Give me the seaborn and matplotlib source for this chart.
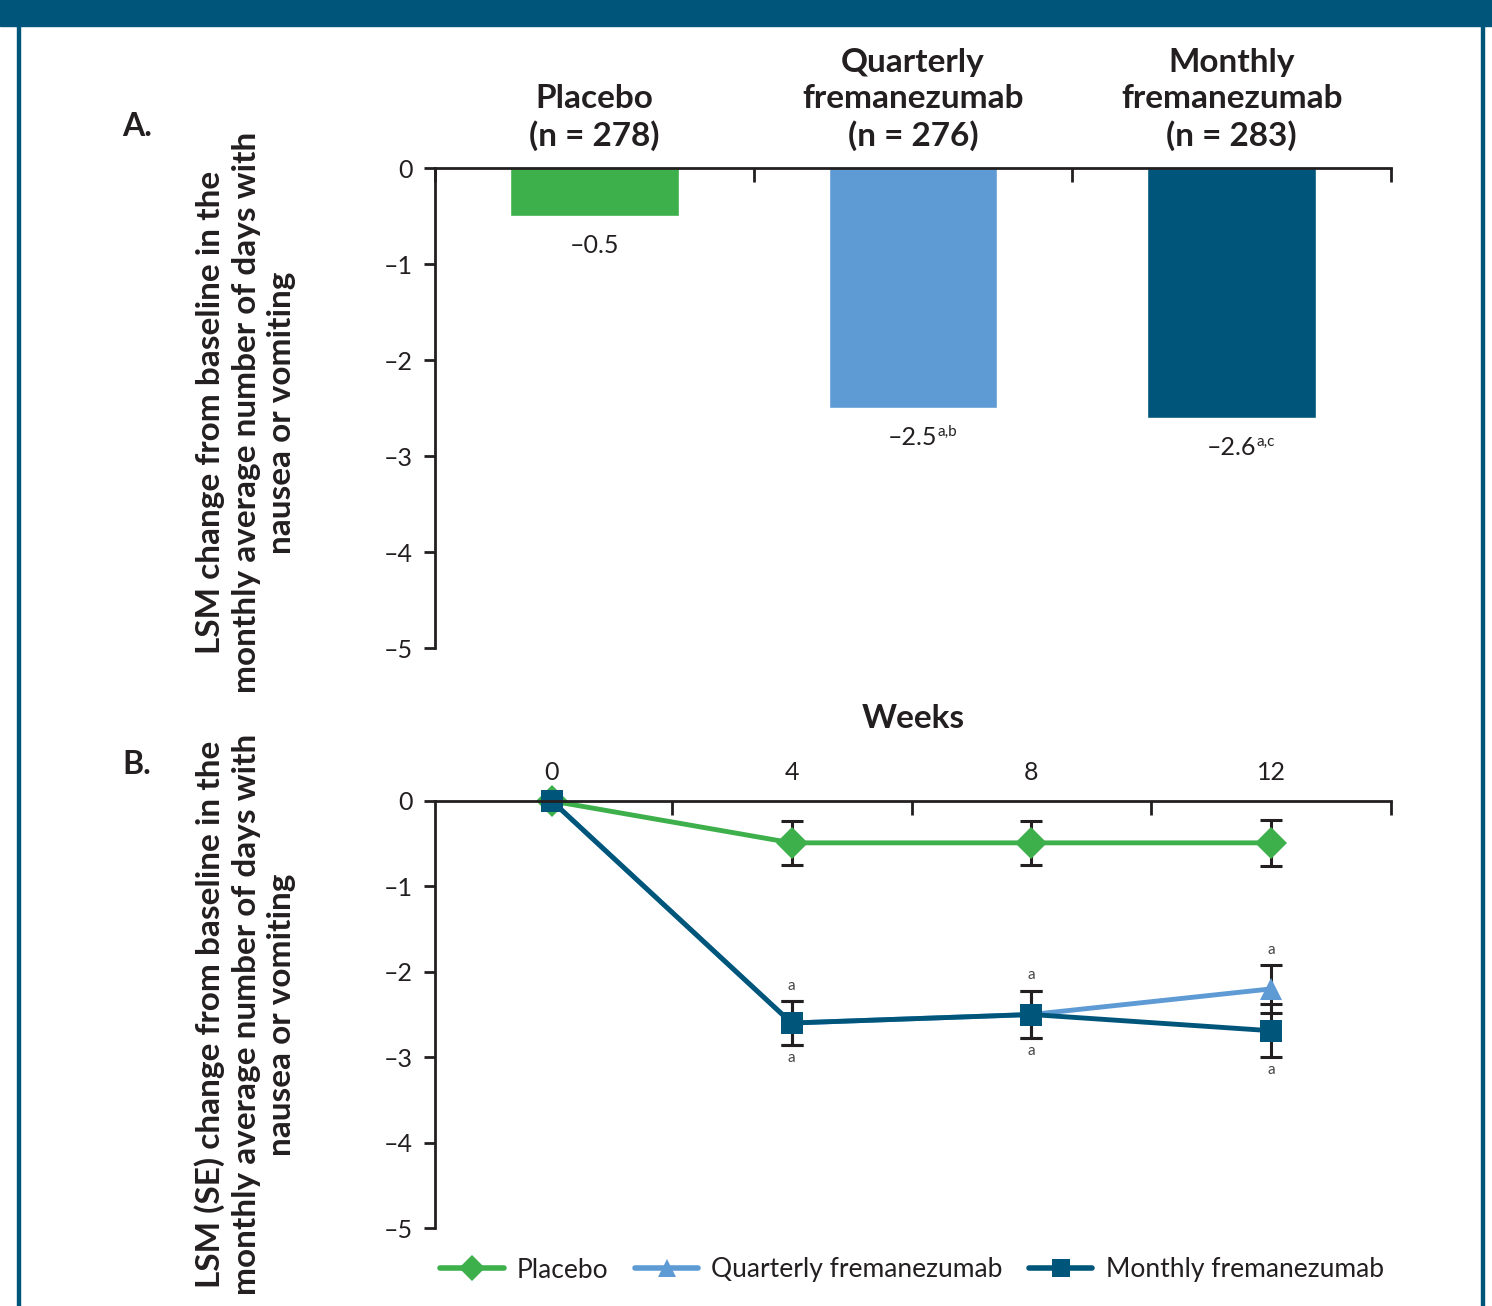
import matplotlib
matplotlib.use("Agg")
import matplotlib.pyplot as plt
import matplotlib.patches as mpatches
from matplotlib.lines import Line2D
import seaborn as sns
import pandas as pd

# Panel A data
groups = ["Placebo", "Quarterly\nfremanezumab", "Monthly\nfremanezumab"]
group_n = [278, 276, 283]
lsm_change = [-0.5, -2.5, -2.6]
bar_value_labels = ["–0.5", "–2.5", "–2.6"]
bar_superscripts = ["", "a,b", "a,c"]

# Panel B data
weeks = [0, 4, 8, 12]
placebo_lsm = [0, -0.49, -0.49, -0.49]
placebo_se = [0, 0.26, 0.26, 0.27]
quarterly_lsm = [0, -2.6, -2.5, -2.2]
quarterly_se = [0, 0.26, 0.28, 0.28]
monthly_lsm = [0, -2.6, -2.5, -2.69]
monthly_se = [0, 0.26, 0.28, 0.31]
series_names = ["Placebo", "Quarterly fremanezumab", "Monthly fremanezumab"]
y_ticks = [0, -1, -2, -3, -4, -5]
y_tick_labels = ["0", "–1", "–2", "–3", "–4", "–5"]

green = "#3DB04B"
light_blue = "#5E9BD4"
dark_blue = "#00567A"
text_col = "#231F20"
colors = [green, light_blue, dark_blue]

sns.set_style("white")
plt.rcParams["font.family"] = ["Lato", "DejaVu Sans"]
plt.rcParams["text.color"] = text_col
plt.rcParams["axes.labelcolor"] = text_col
plt.rcParams["xtick.color"] = text_col
plt.rcParams["ytick.color"] = text_col

fig = plt.figure(figsize=(14.92, 13.06), dpi=100)

# frame around the figure
fig.patches.append(mpatches.Rectangle((0, 1 - 26 / 1306), 1, 26 / 1306, transform=fig.transFigure,
                                      color=dark_blue, zorder=0))
fig.patches.append(mpatches.Rectangle((17 / 1492, 0), 3 / 1492, 1, transform=fig.transFigure,
                                      color=dark_blue, zorder=0))
fig.patches.append(mpatches.Rectangle((1481 / 1492, 0), 3 / 1492, 1, transform=fig.transFigure,
                                      color=dark_blue, zorder=0))

label_a = "LSM change from baseline in the\nmonthly average number of days with\nnausea or vomiting"
label_b = "LSM (SE) change from baseline in the\nmonthly average number of days with\nnausea or vomiting"

# ---------------- Panel A ----------------
ax1 = fig.add_axes([435 / 1492, 1 - 648 / 1306, 956 / 1492, 480 / 1306])
bar_df = pd.DataFrame({"group": groups, "change": lsm_change})
sns.barplot(data=bar_df, x="group", y="change", hue="group", palette=colors,
            width=0.53, legend=False, ax=ax1, saturation=1)
ax1.set_xlim(-0.5, 2.5)
ax1.set_ylim(-5, 0)
ax1.set_yticks(y_ticks)
ax1.set_yticklabels(y_tick_labels, fontsize=18)
ax1.xaxis.tick_top()
ax1.set_xticks(range(3))
ax1.set_xticklabels([f"{g}\n(n = {n})" for g, n in zip(groups, group_n)],
                    fontsize=24, fontweight="bold", linespacing=1.3)
ax1.set_xticks([-0.5, 0.5, 1.5, 2.5], minor=True)
ax1.tick_params(axis="x", which="major", length=0, pad=12)
ax1.tick_params(axis="x", which="minor", direction="in", length=10, width=2, top=True, bottom=False)
ax1.tick_params(axis="y", which="major", direction="out", length=8, width=2, left=True, pad=8)
ax1.set_xlabel("")
ax1.set_ylabel(label_a, fontsize=24, fontweight="bold", linespacing=1.28)
ax1.yaxis.set_label_coords(-0.145, 0.49)
for side in ["right", "bottom"]:
    ax1.spines[side].set_visible(False)
for side in ["left", "top"]:
    ax1.spines[side].set_linewidth(2)
    ax1.spines[side].set_color(text_col)

for i, (val, lab, sup) in enumerate(zip(lsm_change, bar_value_labels, bar_superscripts)):
    t = ax1.annotate(lab, xy=(i, val), xytext=(0, -13), textcoords="offset points",
                     ha="center", va="top", fontsize=18)
    if sup:
        ax1.annotate(sup, xy=(1, 1.05), xycoords=t, ha="left", va="top", fontsize=11)

# ---------------- Panel B ----------------
ax2 = fig.add_axes([435 / 1492, 1 - 1228 / 1306, 956 / 1492, 427 / 1306])
line_df = pd.DataFrame({
    "week": weeks * 3,
    "lsm": placebo_lsm + quarterly_lsm + monthly_lsm,
    "series": [series_names[0]] * 4 + [series_names[1]] * 4 + [series_names[2]] * 4,
})
markers = {series_names[0]: "D", series_names[1]: "^", series_names[2]: "s"}
sns.lineplot(data=line_df, x="week", y="lsm", hue="series", style="series",
             hue_order=series_names, style_order=series_names,
             palette=colors, markers=markers, dashes=False, linewidth=3.5,
             markersize=16, markeredgewidth=0, legend=False, ax=ax2)
for ln in ax2.lines:
    ln.set_clip_on(False)

for lsm, se, col in [(placebo_lsm, placebo_se, green), (quarterly_lsm, quarterly_se, light_blue),
                     (monthly_lsm, monthly_se, dark_blue)]:
    ax2.errorbar(weeks[1:], lsm[1:], yerr=se[1:], fmt="none", ecolor=text_col,
                 elinewidth=2.2, capsize=8, capthick=2.2, zorder=1.5)

# significance markers
for w, v, s in zip(weeks[1:], quarterly_lsm[1:], quarterly_se[1:]):
    ax2.annotate("a", xy=(w, v + s), xytext=(0, 6), textcoords="offset points",
                 ha="center", va="bottom", fontsize=11, color="#444444")
for w, v, s in zip(weeks[1:], monthly_lsm[1:], monthly_se[1:]):
    ax2.annotate("a", xy=(w, v - s), xytext=(0, -4), textcoords="offset points",
                 ha="center", va="top", fontsize=11, color="#444444")

ax2.set_xlim(-1.95, 14)
ax2.set_ylim(-5, 0)
ax2.set_yticks(y_ticks)
ax2.set_yticklabels(y_tick_labels, fontsize=18)
ax2.xaxis.tick_top()
ax2.set_xticks(weeks)
ax2.set_xticklabels([str(w) for w in weeks], fontsize=18)
ax2.set_xticks([2, 6, 10, 14], minor=True)
ax2.tick_params(axis="x", which="major", length=0, pad=12)
ax2.tick_params(axis="x", which="minor", direction="in", length=10, width=2, top=True, bottom=False)
ax2.tick_params(axis="y", which="major", direction="out", length=8, width=2, left=True, pad=8)
ax2.xaxis.set_label_position("top")
ax2.set_xlabel("Weeks", fontsize=24, fontweight="bold", labelpad=24)
ax2.set_ylabel(label_b, fontsize=24, fontweight="bold", linespacing=1.28)
ax2.yaxis.set_label_coords(-0.145, 0.5)
for side in ["right", "bottom"]:
    ax2.spines[side].set_visible(False)
for side in ["left", "top"]:
    ax2.spines[side].set_linewidth(2)
    ax2.spines[side].set_color(text_col)

# panel letters
fig.text(137 / 1492, 1 - 127 / 1306, "A.", ha="center", va="center", fontsize=23, fontweight="bold")
fig.text(137 / 1492, 1 - 765 / 1306, "B.", ha="center", va="center", fontsize=23, fontweight="bold")

# legend
handles = [Line2D([], [], color=c, marker=m, markersize=13, linewidth=4, markeredgewidth=0)
           for c, m in zip(colors, ["D", "^", "s"])]
fig.legend(handles, series_names, loc="center", bbox_to_anchor=(912 / 1492, 1 - 1270 / 1306),
           ncol=3, frameon=False, fontsize=19, handlelength=2.4, columnspacing=1.0, handletextpad=0.5)

fig.savefig("out.png", dpi=100)
